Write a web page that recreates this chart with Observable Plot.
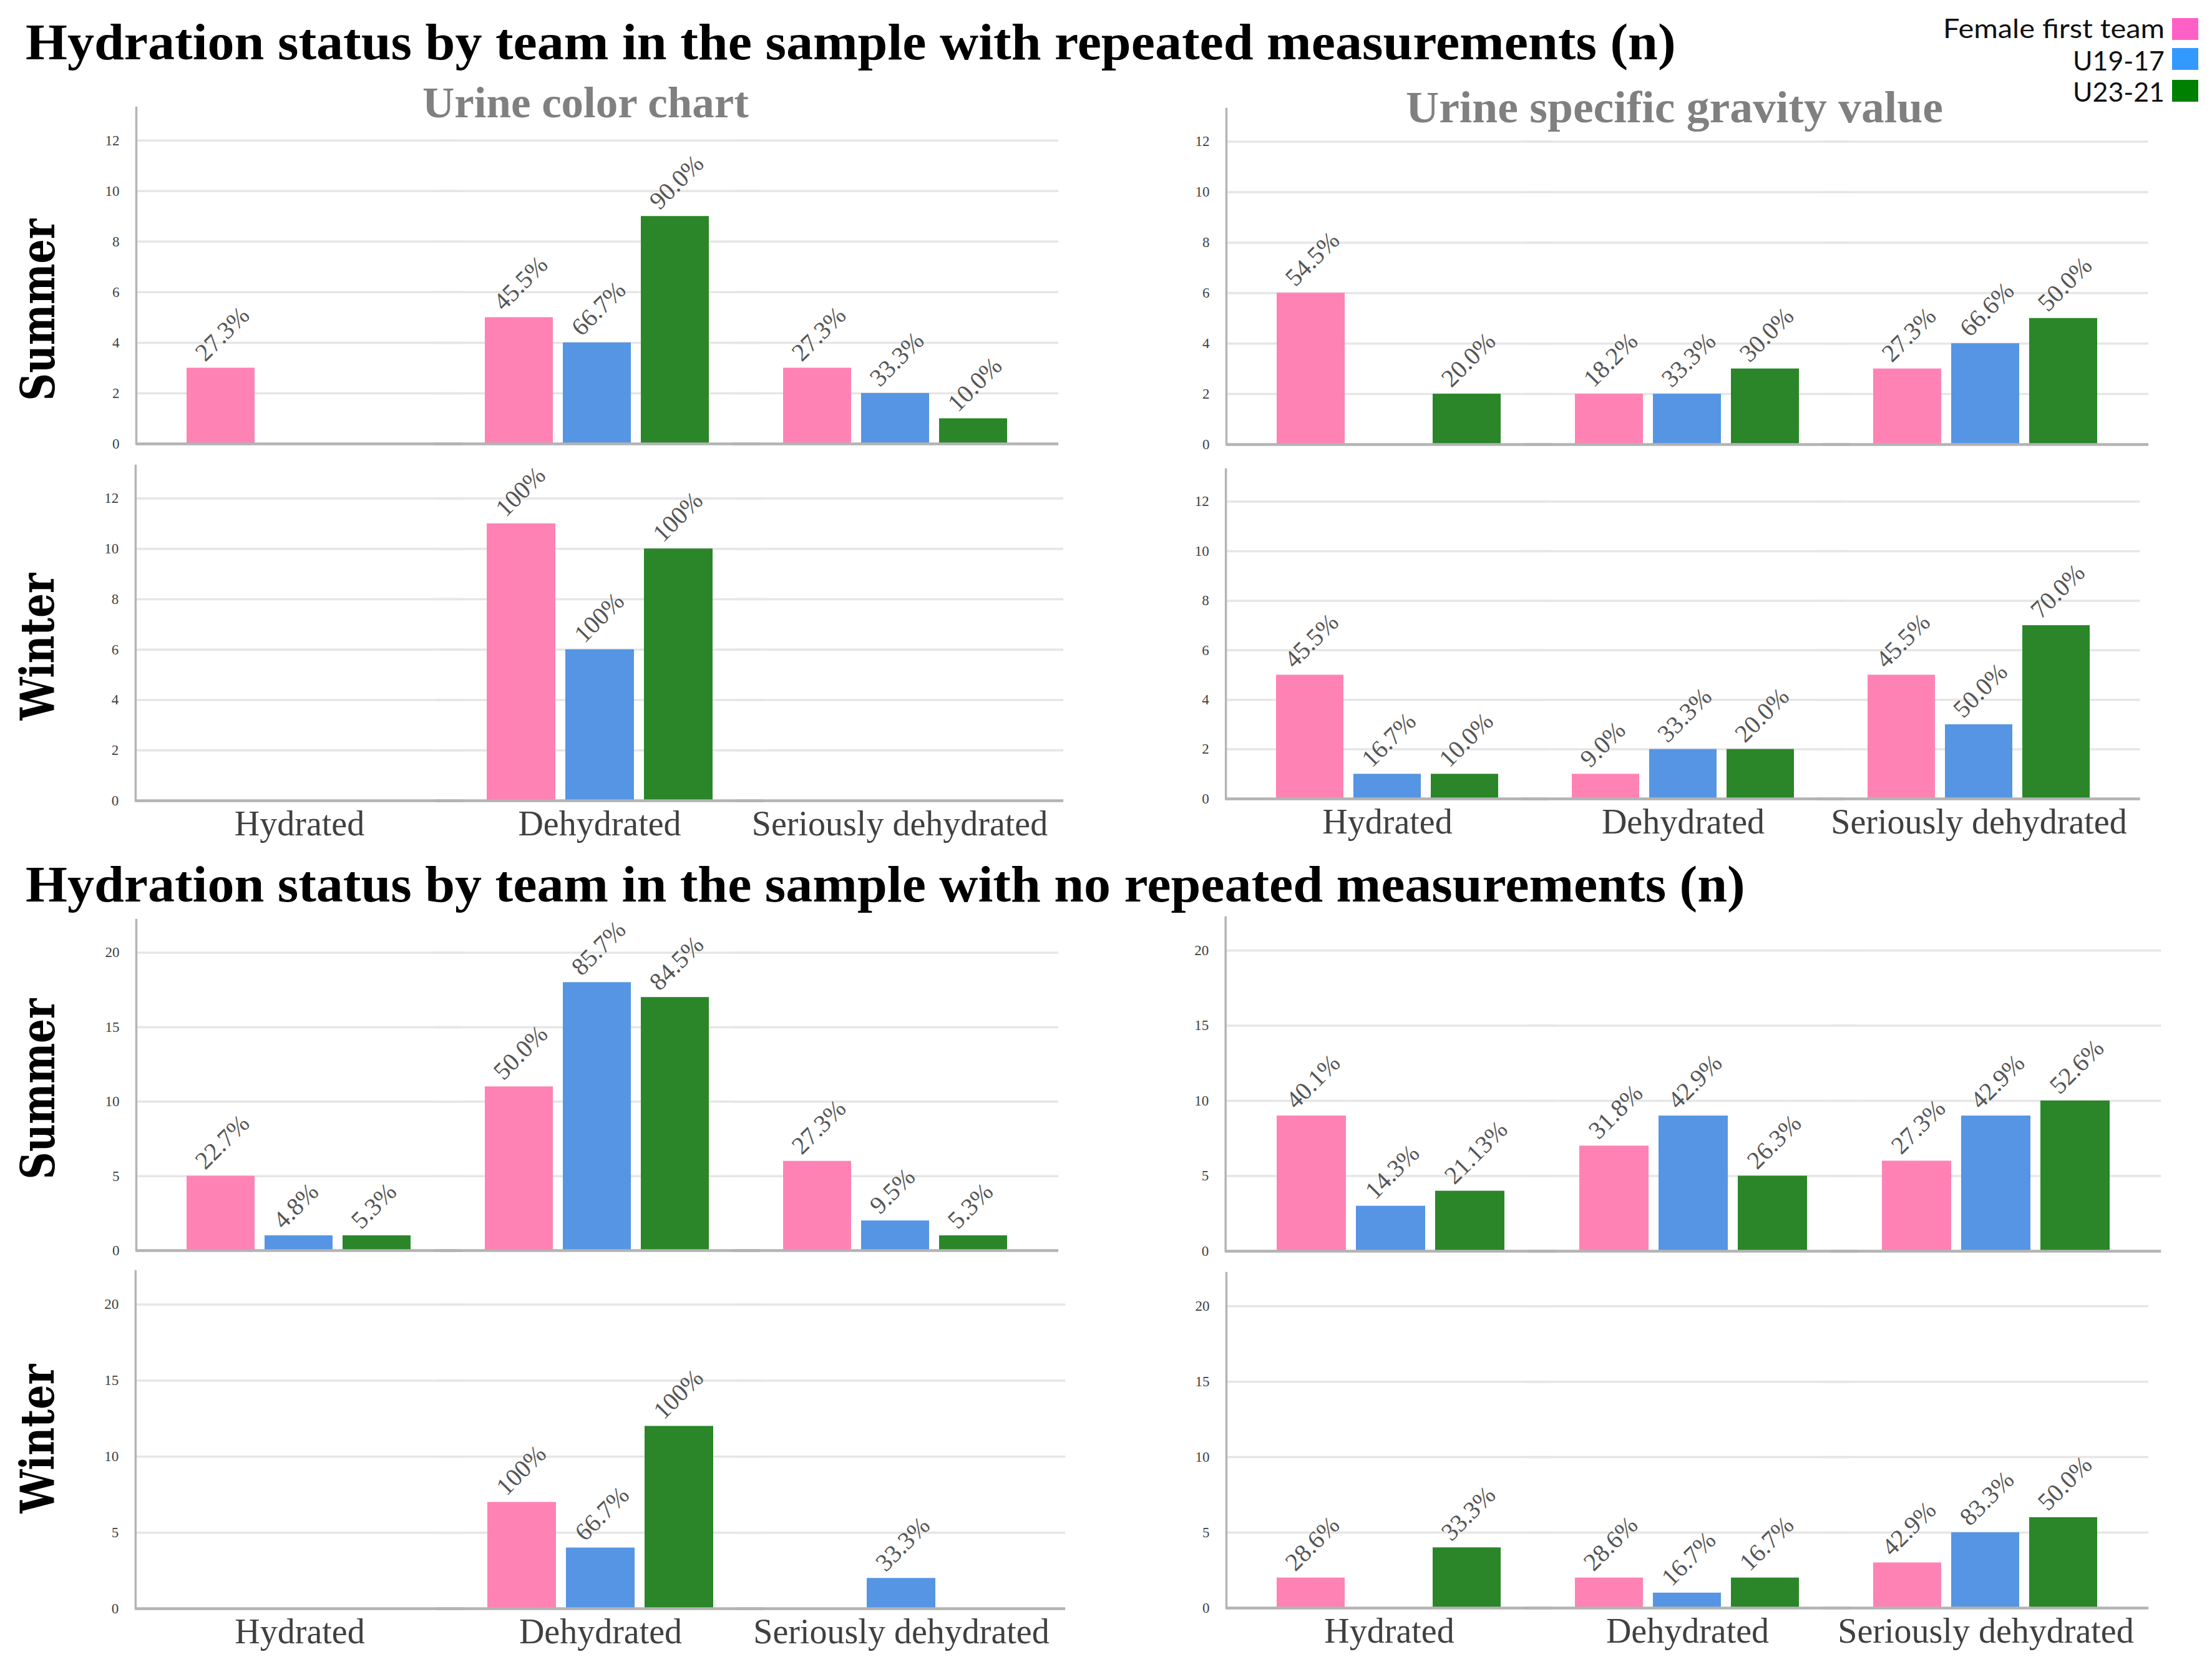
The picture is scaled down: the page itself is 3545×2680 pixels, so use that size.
<!DOCTYPE html>
<html>
<head>
<meta charset="utf-8">
<script src="https://cdn.jsdelivr.net/npm/d3@7"></script>
<script src="https://cdn.jsdelivr.net/npm/@observablehq/plot@0.6"></script>
<style>
  body { margin: 0; background: #fff; }
  #root { position: relative; width: 3545px; height: 2680px; overflow: hidden; background: #fff; }
  .t { position: absolute; white-space: nowrap; line-height: 1; }
  .panel { position: absolute; }
  .sw { position: absolute; }
</style>
</head>
<body>
<div id="root"></div>
<script>
// ---------- data ----------
const statuses = ["Hydrated", "Dehydrated", "Seriously dehydrated"];
const teams = ["Female first team", "U19-17", "U23-21"];
const barColors = ["#ff82b5", "#5595e4", "#2a8628"];
const legendColors = ["#ff60c6", "#3399ff", "#008000"];

const yTicksRepeated = [0, 2, 4, 6, 8, 10, 12];
const yTicksSingle = [0, 5, 10, 15, 20];

// repeated measurements — urine color chart
const repColorSummerN = [[3, 0, 0], [5, 4, 9], [3, 2, 1]];
const repColorSummerPct = [["27.3%", "", ""], ["45.5%", "66.7%", "90.0%"], ["27.3%", "33.3%", "10.0%"]];
const repColorWinterN = [[0, 0, 0], [11, 6, 10], [0, 0, 0]];
const repColorWinterPct = [["", "", ""], ["100%", "100%", "100%"], ["", "", ""]];
// repeated measurements — urine specific gravity
const repGravSummerN = [[6, 0, 2], [2, 2, 3], [3, 4, 5]];
const repGravSummerPct = [["54.5%", "", "20.0%"], ["18.2%", "33.3%", "30.0%"], ["27.3%", "66.6%", "50.0%"]];
const repGravWinterN = [[5, 1, 1], [1, 2, 2], [5, 3, 7]];
const repGravWinterPct = [["45.5%", "16.7%", "10.0%"], ["9.0%", "33.3%", "20.0%"], ["45.5%", "50.0%", "70.0%"]];
// no repeated measurements — urine color chart
const oneColorSummerN = [[5, 1, 1], [11, 18, 17], [6, 2, 1]];
const oneColorSummerPct = [["22.7%", "4.8%", "5.3%"], ["50.0%", "85.7%", "84.5%"], ["27.3%", "9.5%", "5.3%"]];
const oneColorWinterN = [[0, 0, 0], [7, 4, 12], [0, 2, 0]];
const oneColorWinterPct = [["", "", ""], ["100%", "66.7%", "100%"], ["", "33.3%", ""]];
// no repeated measurements — urine specific gravity
const oneGravSummerN = [[9, 3, 4], [7, 9, 5], [6, 9, 10]];
const oneGravSummerPct = [["40.1%", "14.3%", "21.13%"], ["31.8%", "42.9%", "26.3%"], ["27.3%", "42.9%", "52.6%"]];
const oneGravWinterN = [[2, 0, 4], [2, 1, 2], [3, 5, 6]];
const oneGravWinterPct = [["28.6%", "", "33.3%"], ["28.6%", "16.7%", "16.7%"], ["42.9%", "83.3%", "50.0%"]];

const titleRepeated = "Hydration status by team in the sample with repeated measurements (n)";
const titleSingle = "Hydration status by team in the sample with no repeated measurements (n)";
const subtitles = ["Urine color chart", "Urine specific gravity value"];
const seasons = ["Summer", "Winter"];

// ---------- helpers ----------
const root = document.getElementById("root");

function rows(n, pct) {
  const out = [];
  statuses.forEach((s, i) => teams.forEach((t, j) => out.push({status: s, team: t, n: n[i][j], label: pct[i][j]})));
  return out;
}

function panel(cfg) {
  const ML = 110, MR = 40, MT = 60, MB = 100;
  const po = 0.046;
  const G = cfg.right - cfg.axisX;
  const pad = po * G / (3 + 2 * po);
  const H = cfg.base - cfg.top;
  const data = rows(cfg.n, cfg.pct); // zero rows keep every facet present
  const marks = [
    Plot.ruleY(cfg.ticks.filter(v => v > 0), {stroke: "#e6e6e6", strokeWidth: 3.5, insetLeft: -pad, insetRight: -pad}),
    Plot.barY(data, {fx: "status", x: "team", y: "n", fill: "team"}),
    Plot.text(data, {fx: "status", x: "team", y: "n", text: "label", rotate: -45, textAnchor: "start", lineAnchor: "bottom",
      dx: -25, dy: -9, fontSize: 40, fill: "#555"}),
    Plot.ruleY([0], {stroke: "#b3b3b3", strokeWidth: 4.5, insetLeft: -pad, insetRight: -pad}),
    Plot.frame({anchor: "left", facetAnchor: "left", stroke: "#b5b5b5", strokeWidth: 3.5, insetLeft: -pad}),
    Plot.axisY({ticks: cfg.ticks, tickSize: 0, tickPadding: 27 + pad, fontSize: 23, tickFormat: d => String(d), label: null})
  ];
  if (cfg.showX) marks.push(Plot.axisFx({anchor: "bottom", tickSize: 0, tickPadding: 16, fontSize: 56, label: null, fill: "#404040"}));
  const chart = Plot.plot({
    width: ML + G + MR,
    height: MT + H + MB,
    marginLeft: ML, marginRight: MR, marginTop: MT, marginBottom: MB,
    style: {fontFamily: "Liberation Serif", fontSize: "23px", color: "#404040", background: "transparent", overflow: "visible"},
    fx: cfg.showX ? {domain: statuses, paddingInner: 0, paddingOuter: po, label: null}
                  : {domain: statuses, paddingInner: 0, paddingOuter: po, label: null, axis: null},
    x: {domain: teams, paddingInner: 0.127, paddingOuter: 0.464, axis: null},
    y: {domain: [0, cfg.ymax]},
    color: {domain: teams, range: barColors},
    marks
  });
  const wrap = document.createElement("div");
  wrap.className = "panel";
  wrap.style.left = (cfg.axisX - ML) + "px";
  wrap.style.top = (cfg.top - MT) + "px";
  wrap.appendChild(chart);
  root.appendChild(wrap);
}

// asc: baseline offset ratio for line-height = font-size
function addText(o) {
  const d = document.createElement("div");
  d.className = "t";
  d.textContent = o.text;
  d.style.fontFamily = o.family;
  d.style.fontSize = o.size + "px";
  d.style.fontWeight = o.weight || "normal";
  d.style.color = o.color || "#000";
  root.appendChild(d);
  const w = d.offsetWidth;
  const s = o.width ? o.width / w : 1;
  const bOff = o.asc * o.size;
  d.style.transformOrigin = `0px ${bOff}px`;
  let left = o.x;
  if (!o.rotate) {
    if (o.anchor === "end") left = o.x - (o.width || w);
    if (o.anchor === "middle") left = o.x - (o.width || w) / 2;
  }
  d.style.left = left + "px";
  d.style.top = (o.y - bOff) + "px";
  d.style.transform = (o.rotate ? "rotate(-90deg) " : "") + `scaleX(${s})`;
}

// ---------- panels ----------
const panels = [
  {axisX: 216, right: 1697, top: 172, base: 711, ymax: 13.3, ticks: yTicksRepeated, n: repColorSummerN, pct: repColorSummerPct, showX: false},
  {axisX: 216, right: 1705, top: 746, base: 1283, ymax: 13.3, ticks: yTicksRepeated, n: repColorWinterN, pct: repColorWinterPct, showX: true},
  {axisX: 1963, right: 3444, top: 174, base: 712, ymax: 13.3, ticks: yTicksRepeated, n: repGravSummerN, pct: repGravSummerPct, showX: false},
  {axisX: 1963, right: 3430, top: 752, base: 1280, ymax: 13.3, ticks: yTicksRepeated, n: repGravWinterN, pct: repGravWinterPct, showX: true},
  {axisX: 216, right: 1697, top: 1474, base: 2004, ymax: 22.2, ticks: yTicksSingle, n: oneColorSummerN, pct: oneColorSummerPct, showX: false},
  {axisX: 1963, right: 3463, top: 1470, base: 2005, ymax: 22.2, ticks: yTicksSingle, n: oneGravSummerN, pct: oneGravSummerPct, showX: false},
  {axisX: 216, right: 1708, top: 2037, base: 2578, ymax: 22.2, ticks: yTicksSingle, n: oneColorWinterN, pct: oneColorWinterPct, showX: true},
  {axisX: 1963, right: 3444, top: 2040, base: 2577, ymax: 22.2, ticks: yTicksSingle, n: oneGravWinterN, pct: oneGravWinterPct, showX: true}
];
panels.forEach(panel);

// ---------- titles ----------
const SERIF = "Liberation Serif";
addText({text: titleRepeated, x: 41, y: 96, size: 82, family: SERIF, weight: "bold", width: 2645, asc: 0.8375});
addText({text: titleSingle, x: 41, y: 1446, size: 82, family: SERIF, weight: "bold", width: 2756, asc: 0.8375});
addText({text: subtitles[0], x: 677, y: 189, size: 70, family: SERIF, weight: "bold", color: "#808080", width: 523, asc: 0.8375});
addText({text: subtitles[1], x: 2253, y: 196, size: 72, family: SERIF, weight: "bold", color: "#808080", width: 861, asc: 0.8375});

// row labels (rotated)
const ROW = "DejaVu Serif";
addText({text: seasons[0], x: 87, y: 642, size: 75, family: ROW, weight: "bold", width: 292, asc: 0.846, rotate: true});
addText({text: seasons[1], x: 86, y: 1154, size: 75, family: ROW, weight: "bold", width: 236, asc: 0.846, rotate: true});
addText({text: seasons[0], x: 87, y: 1890, size: 75, family: ROW, weight: "bold", width: 290, asc: 0.846, rotate: true});
addText({text: seasons[1], x: 86, y: 2425, size: 75, family: ROW, weight: "bold", width: 239, asc: 0.846, rotate: true});

// ---------- legend ----------
const legendBaselines = [60, 112, 162];
const legendWidths = [355, 147, 147];
const swatchTops = [29, 77, 128];
teams.forEach((t, i) => {
  addText({text: t, x: 3469, y: legendBaselines[i], size: 42, family: "Lato", color: "#111", width: legendWidths[i], asc: 0.85, anchor: "end"});
  const s = document.createElement("div");
  s.className = "sw";
  s.style.left = "3481px";
  s.style.top = swatchTops[i] + "px";
  s.style.width = "42px";
  s.style.height = "35px";
  s.style.background = legendColors[i];
  root.appendChild(s);
});
</script>
</body>
</html>
